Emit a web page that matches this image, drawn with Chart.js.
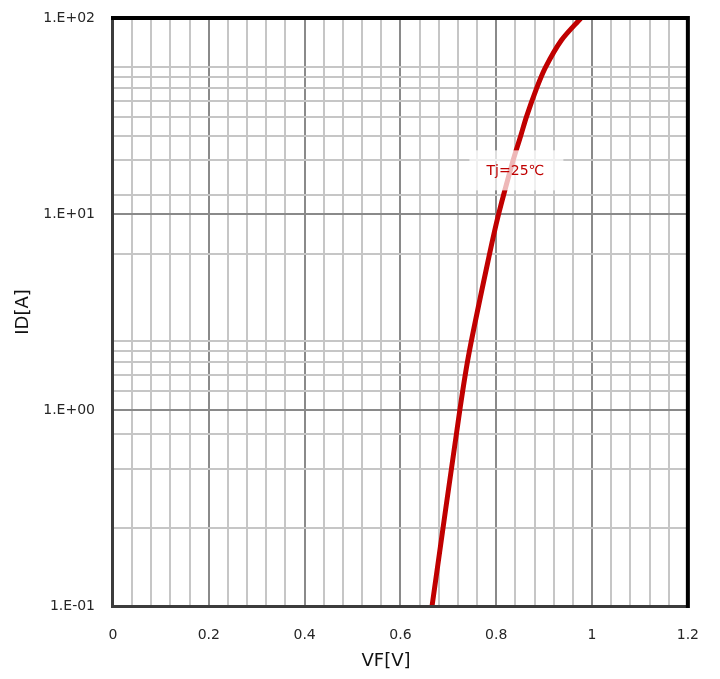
<!DOCTYPE html>
<html><head><meta charset="utf-8">
<script src="https://cdn.jsdelivr.net/npm/chart.js@4/dist/chart.umd.min.js"></script>
<style>html,body{margin:0;padding:0;background:#fff}#wrap{width:720px;height:679px}</style>
</head><body><div id="wrap"><canvas id="c" width="720" height="679"></canvas></div>
<script>
// ---- data ----
const vf = [0.666, 0.724, 0.744, 0.786, 0.805, 0.835, 0.851, 0.863, 0.883, 0.902, 0.936, 0.977];
const idA = [0.1, 1.0, 2.0, 6.25, 10, 18.7, 25, 31.3, 43, 55.5, 77, 100];
const seriesLabel = 'Tj=25\u2103';
const labelAnchor = {vf: 0.84, id: 16.5};

const xGrid = [0,0.04,0.08,0.12,0.16,0.2,0.24,0.28,0.32,0.36,0.4,0.44,0.48,0.52,0.56,0.6,0.64,0.68,0.72,0.76,0.8,0.84,0.88,0.92,0.96,1,1.04,1.08,1.12,1.16,1.2];
const xMajor = [0,0.2,0.4,0.6,0.8,1,1.2];
const xLabels = ['0','0.2','0.4','0.6','0.8','1','1.2'];
const yMajor = [0.1,1,10,100];
const yLabels = ['1.E-01','1.E+00','1.E+01','1.E+02'];
const yMinor = [0.25,0.5,0.75,1.25,1.5,1.75,2,2.25,6.25,12.5,18.75,25,31.25,37.5,43.75,50,56.25];
const xTitle = 'VF[V]';
const yTitle = 'ID[A]';

const idxIn = (arr,v) => arr.findIndex(a => Math.abs(a-v) < 1e-9 * Math.max(1,Math.abs(a)));

const points = vf.map((x,i) => ({x, y: idA[i]}));

const framePlugin = {
  id: 'frame',
  afterDatasetsDraw(chart) {
    const {ctx} = chart;
    const xs = chart.scales.x, ys = chart.scales.y;
    const cx = xs.getPixelForValue(labelAnchor.vf);
    const cy = ys.getPixelForValue(labelAnchor.id);
    ctx.save();
    ctx.fillStyle = 'rgba(255,255,255,0.72)';
    ctx.fillRect(cx - 46, cy - 21, 94, 40);
    ctx.fillStyle = '#c00000';
    ctx.font = '14px "DejaVu Sans"';
    ctx.textAlign = 'center';
    ctx.textBaseline = 'middle';
    ctx.fillText(seriesLabel, cx, cy);
    ctx.restore();
  },
  afterDraw(chart) {
    const {ctx, chartArea: a} = chart;
    ctx.save();
    ctx.strokeStyle = '#3c3c3c';
    ctx.lineWidth = 3;
    ctx.beginPath();
    ctx.moveTo(a.left - 0.5, a.top);
    ctx.lineTo(a.left - 0.5, a.bottom + 0.5);
    ctx.lineTo(a.right, a.bottom + 0.5);
    ctx.stroke();
    ctx.strokeStyle = '#000';
    ctx.lineWidth = 4;
    ctx.beginPath();
    ctx.moveTo(a.left - 2, a.top);
    ctx.lineTo(a.right, a.top);
    ctx.lineTo(a.right, a.bottom + 2);
    ctx.stroke();
    ctx.fillStyle = '#111';
    ctx.font = '18px "DejaVu Sans"';
    ctx.textAlign = 'center';
    ctx.textBaseline = 'middle';
    ctx.fillText(xTitle, 386, 661);
    ctx.translate(23, (a.top + a.bottom) / 2);
    ctx.rotate(-Math.PI / 2);
    ctx.fillText(yTitle, 0, 0);
    ctx.restore();
  }
};

new Chart(document.getElementById('c'), {
  type: 'line',
  data: {
    datasets: [{
      label: seriesLabel,
      data: points,
      borderColor: '#c00000',
      borderWidth: 5,
      pointRadius: 0,
      fill: false,
      tension: 0.3
    }]
  },
  options: {
    responsive: false,
    devicePixelRatio: 1,
    animation: false,
    layout: {padding: {left: 0, right: 30, top: 18, bottom: 0}},
    plugins: {legend: {display: false}, tooltip: {enabled: false}},
    scales: {
      x: {
        type: 'linear', min: 0, max: 1.2,
        afterBuildTicks(axis) { axis.ticks = xGrid.map(v => ({value: v})); },
        afterFit(axis) { axis.height = 73; axis.paddingTop = 0; axis.paddingBottom = 0; },
        border: {display: false},
        grid: {
          drawTicks: false,
          lineWidth: 2,
          color: c => (c.tick && idxIn(xMajor, c.tick.value) >= 0) ? '#8a8a8a' : '#c6c6c6'
        },
        ticks: {
          autoSkip: false, maxRotation: 0, padding: 21,
          color: '#262626', font: {family: 'DejaVu Sans', size: 14},
          callback: v => { const i = idxIn(xMajor, v); return i >= 0 ? xLabels[i] : ''; }
        }
      },
      y: {
        type: 'logarithmic', min: 0.1, max: 100,
        afterBuildTicks(axis) {
          axis.ticks = yMajor.concat(yMinor).sort((a,b)=>a-b).map(v => ({value: v}));
        },
        afterFit(axis) { axis.width = 113; axis.paddingTop = 0; axis.paddingBottom = 0; },
        border: {display: false},
        grid: {
          drawTicks: false,
          lineWidth: 2,
          color: c => (c.tick && idxIn(yMajor, c.tick.value) >= 0) ? '#8a8a8a' : '#c6c6c6'
        },
        ticks: {
          autoSkip: false, padding: 18,
          color: '#262626', font: {family: 'DejaVu Sans', size: 14},
          callback: v => { const i = idxIn(yMajor, v); return i >= 0 ? yLabels[i] : ''; }
        }
      }
    }
  },
  plugins: [framePlugin]
});
</script>
</body></html>
